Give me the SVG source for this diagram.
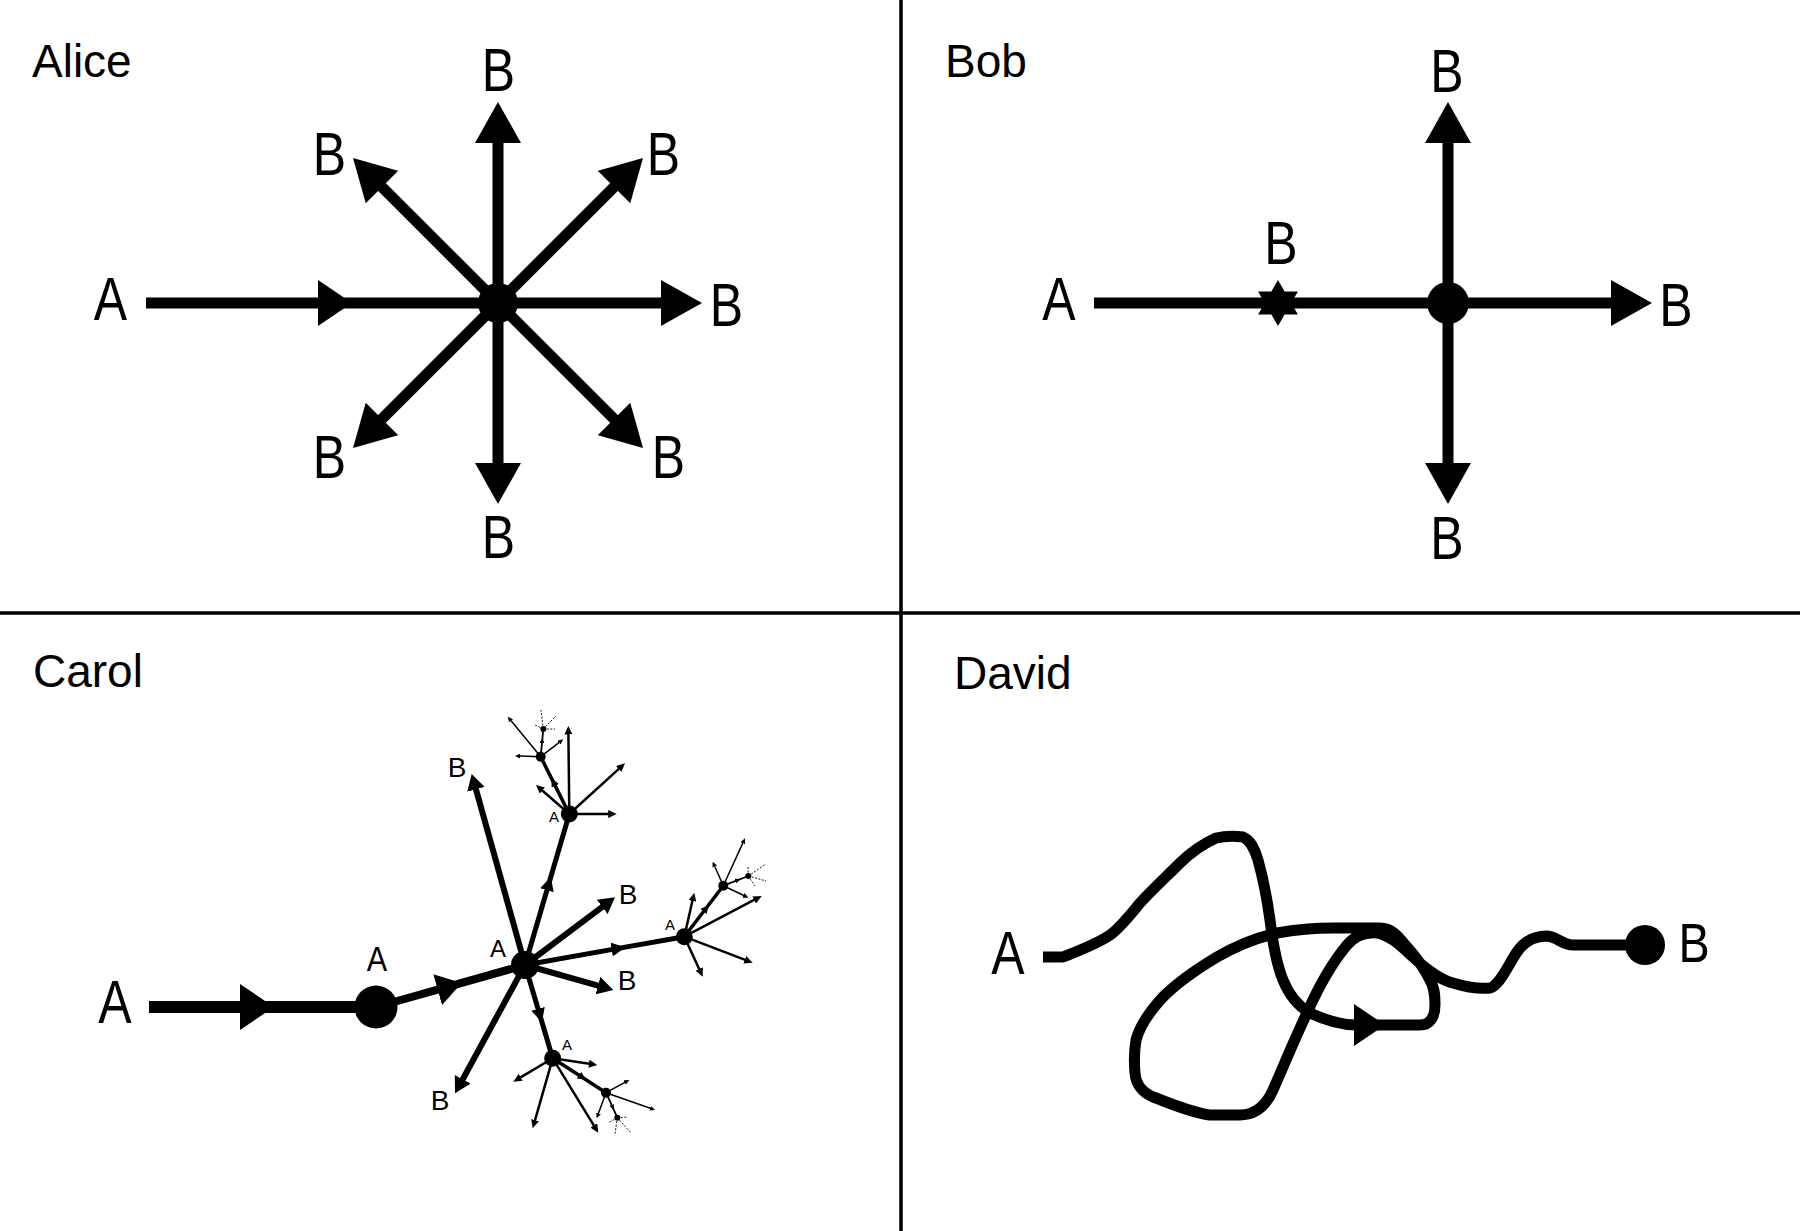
<svg xmlns="http://www.w3.org/2000/svg" width="1800" height="1231" viewBox="0 0 1800 1231">
<style>
.t{font-family:"Liberation Sans",Arial,Helvetica,sans-serif;fill:#000}
.title{font-size:46px}
.big{font-size:61px;text-anchor:middle}
.mid{font-size:36px;text-anchor:middle}
.cb{font-size:28px;text-anchor:middle}
.ca{font-size:24px;text-anchor:middle}
.sa{font-size:15px;text-anchor:middle}
.ln{stroke:#000;fill:none;stroke-linecap:butt;stroke-linejoin:round}
.dot{fill:#000}
.dash{stroke:#000;fill:none;stroke-width:0.9;stroke-dasharray:2 1.5}
</style>
<defs>
<marker id="mA" markerUnits="userSpaceOnUse" viewBox="-1 -23 41 46" markerWidth="41" markerHeight="46" refX="0" refY="0" orient="auto"><path d="M-1,-23 L40,0 L-1,23 z"/></marker>
<marker id="mA2" markerUnits="userSpaceOnUse" viewBox="-1 -23 34 46" markerWidth="34" markerHeight="46" refX="0" refY="0" orient="auto"><path d="M-1,-23 L33,0 L-1,23 z"/></marker>
<marker id="mN" markerUnits="userSpaceOnUse" viewBox="-1 -16 25 32" markerWidth="25" markerHeight="32" refX="0" refY="0" orient="auto"><path d="M-1,-16 L24,0 L-1,16 z"/></marker>
<marker id="mB" markerUnits="userSpaceOnUse" viewBox="-1 -9 16 18" markerWidth="16" markerHeight="18" refX="0" refY="0" orient="auto"><path d="M-1,-9 L15,0 L-1,9 z"/></marker>
<marker id="mS" markerUnits="userSpaceOnUse" viewBox="-1 -7 14 14" markerWidth="14" markerHeight="14" refX="0" refY="0" orient="auto"><path d="M-1,-7 L13,0 L-1,7 z"/></marker>
<marker id="mT" markerUnits="userSpaceOnUse" viewBox="-0.5 -4 8.5 8" markerWidth="8.5" markerHeight="8" refX="0" refY="0" orient="auto"><path d="M-0.5,-4 L8,0 L-0.5,4 z"/></marker>
<marker id="mU" markerUnits="userSpaceOnUse" viewBox="-0.3 -2.5 5.3 5" markerWidth="5.3" markerHeight="5" refX="0" refY="0" orient="auto"><path d="M-0.3,-2.5 L5,0 L-0.3,2.5 z"/></marker>
</defs>
<rect x="0" y="0" width="1800" height="1231" fill="#fff"/>

<g id="frame">
<line x1="901" y1="0" x2="901" y2="1231" stroke="#000" stroke-width="3.5"/>
<line x1="0" y1="613" x2="1800" y2="613" stroke="#000" stroke-width="3.5"/>
</g>

<!-- ALICE -->
<g id="alice">
<text class="t title" x="32" y="77">Alice</text>
<g id="alice-connectors">
<path class="ln" stroke-width="11" d="M146,303 L319,303 L498,303" marker-mid="url(#mA2)"/>
<path class="ln" stroke-width="11" d="M498,303 L498,142" marker-end="url(#mA)"/>
<path class="ln" stroke-width="11" d="M498,303 L662,303" marker-end="url(#mA)"/>
<path class="ln" stroke-width="11" d="M498,303 L498,464" marker-end="url(#mA)"/>
<path class="ln" stroke-width="11" d="M498,303 L381.3,186.3" marker-end="url(#mA)"/>
<path class="ln" stroke-width="11" d="M498,303 L614.7,186.3" marker-end="url(#mA)"/>
<path class="ln" stroke-width="11" d="M498,303 L381.3,419.7" marker-end="url(#mA)"/>
<path class="ln" stroke-width="11" d="M498,303 L614.7,419.7" marker-end="url(#mA)"/>
</g>
<g id="alice-A"><text class="t big" transform="translate(110.5,320) scale(0.82,1)">A</text></g>
<g id="alice-hub"><circle class="dot" cx="498" cy="303" r="20"/></g>
<g id="alice-B-top"><text class="t big" transform="translate(498.5,91) scale(0.82,1)">B</text></g>
<g id="alice-B-ul"><text class="t big" transform="translate(329.5,175) scale(0.82,1)">B</text></g>
<g id="alice-B-ur"><text class="t big" transform="translate(663.5,175) scale(0.82,1)">B</text></g>
<g id="alice-B-right"><text class="t big" transform="translate(726.5,326) scale(0.82,1)">B</text></g>
<g id="alice-B-dl"><text class="t big" transform="translate(329.5,478) scale(0.82,1)">B</text></g>
<g id="alice-B-dr"><text class="t big" transform="translate(668.5,478) scale(0.82,1)">B</text></g>
<g id="alice-B-bottom"><text class="t big" transform="translate(498.5,558) scale(0.82,1)">B</text></g>
</g>

<!-- BOB -->
<g id="bob">
<text class="t title" x="945" y="77">Bob</text>
<g id="bob-connectors">
<path class="ln" stroke-width="11" d="M1094,303 L1448,303"/>
<path class="ln" stroke-width="11" d="M1448,303 L1448,142" marker-end="url(#mA)"/>
<path class="ln" stroke-width="11" d="M1448,303 L1612,303" marker-end="url(#mA)"/>
<path class="ln" stroke-width="11" d="M1448,303 L1448,464" marker-end="url(#mA)"/>
</g>
<g id="bob-A"><text class="t big" transform="translate(1059,320) scale(0.82,1)">A</text></g>
<g id="bob-star"><polygon class="dot" transform="translate(1278,303)" points="0,-23 6.65,-11.5 19.9,-11.5 13.3,0 19.9,11.5 6.65,11.5 0,23 -6.65,11.5 -19.9,11.5 -13.3,0 -19.9,-11.5 -6.65,-11.5"/>
<text class="t big" transform="translate(1281,264) scale(0.82,1)">B</text></g>
<g id="bob-hub"><circle class="dot" cx="1448" cy="303" r="21"/></g>
<g id="bob-B-top"><text class="t big" transform="translate(1447,92) scale(0.82,1)">B</text></g>
<g id="bob-B-right"><text class="t big" transform="translate(1676,326) scale(0.82,1)">B</text></g>
<g id="bob-B-bottom"><text class="t big" transform="translate(1447,559) scale(0.82,1)">B</text></g>
</g>

<!-- CAROL -->
<g id="carol">
<text class="t title" x="33" y="687">Carol</text>
<g id="carol-connectors">
<path class="ln" stroke-width="12" d="M149,1007 L241,1007 L376,1007" marker-mid="url(#mA2)"/>
<path class="ln" stroke-width="8" d="M376,1007 L438.6,989.4 L525,965" marker-mid="url(#mN)"/>
<path class="ln" stroke-width="6" d="M525,965 L475.7,788.4" marker-end="url(#mB)"/>
<path class="ln" stroke-width="6" d="M525,965 L603,906.3" marker-end="url(#mB)"/>
<path class="ln" stroke-width="6" d="M525,965 L598.9,985.9" marker-end="url(#mB)"/>
<path class="ln" stroke-width="6" d="M525,965 L462.2,1080.2" marker-end="url(#mB)"/>
<path class="ln" stroke-width="5" d="M525,965 L547.2,889.2 L569.3,814" marker-mid="url(#mS)"/>
<path class="ln" stroke-width="5" d="M525,965 L612.6,949.4 L684.3,936.7" marker-mid="url(#mS)"/>
<path class="ln" stroke-width="5" d="M525,965 L538.3,1009.8 L552.7,1058.3" marker-mid="url(#mS)"/>
<!-- A1 cluster -->
<path class="ln" stroke-width="2.5" d="M569.3,814 L568.4,734" marker-end="url(#mT)"/>
<path class="ln" stroke-width="2.5" d="M569.3,814 L619.1,768.7" marker-end="url(#mT)"/>
<path class="ln" stroke-width="2.5" d="M569.3,814 L608.7,814" marker-end="url(#mT)"/>
<path class="ln" stroke-width="2.5" d="M569.3,814 L542,790.2" marker-end="url(#mT)"/>
<path class="ln" stroke-width="3.5" d="M569.3,814 L555,785.4 L540.7,756.7" marker-mid="url(#mT)"/>
<path class="ln" stroke-width="1.5" d="M540.7,756.7 L520,756.1" marker-end="url(#mU)"/>
<path class="ln" stroke-width="1.5" d="M540.7,756.7 L510.9,720.6" marker-end="url(#mU)"/>
<path class="ln" stroke-width="1.5" d="M540.7,756.7 L559.3,742.4" marker-end="url(#mU)"/>
<path class="ln" stroke-width="1.8" d="M540.7,756.7 L542,742.9 L543.3,729" marker-mid="url(#mU)"/>
<path class="dash" d="M543.3,729 L541,710 M543.3,729 L556,716 M543.3,729 L555,729 M543.3,729 L535,725"/>
<!-- A2 cluster -->
<path class="ln" stroke-width="2.5" d="M684.3,936.7 L692.5,900.5" marker-end="url(#mT)"/>
<path class="ln" stroke-width="2.5" d="M684.3,936.7 L754.6,899.7" marker-end="url(#mT)"/>
<path class="ln" stroke-width="2.5" d="M684.3,936.7 L745.2,959.9" marker-end="url(#mT)"/>
<path class="ln" stroke-width="2.5" d="M684.3,936.7 L699.4,969.4" marker-end="url(#mT)"/>
<path class="ln" stroke-width="3.5" d="M684.3,936.7 L703.8,911.2 L723.3,885.7" marker-mid="url(#mT)"/>
<path class="ln" stroke-width="1.5" d="M723.3,885.7 L742.9,842.9" marker-end="url(#mU)"/>
<path class="ln" stroke-width="1.5" d="M723.3,885.7 L714.7,866.3" marker-end="url(#mU)"/>
<path class="ln" stroke-width="1.5" d="M723.3,885.7 L743.8,895.5" marker-end="url(#mU)"/>
<path class="ln" stroke-width="1.8" d="M723.3,885.7 L735.8,880.9 L748.3,876" marker-mid="url(#mU)"/>
<path class="dash" d="M748.3,876 L748,866 M748.3,876 L766,864 M748.3,876 L766,881 M748.3,876 L755,886"/>
<!-- A3 cluster -->
<path class="ln" stroke-width="2.5" d="M552.7,1058.3 L589.4,1063.8" marker-end="url(#mT)"/>
<path class="ln" stroke-width="2.5" d="M552.7,1058.3 L520.2,1077.6" marker-end="url(#mT)"/>
<path class="ln" stroke-width="2.5" d="M552.7,1058.3 L534.9,1120.6" marker-end="url(#mT)"/>
<path class="ln" stroke-width="2.5" d="M552.7,1058.3 L594.1,1125.9" marker-end="url(#mT)"/>
<path class="ln" stroke-width="3.5" d="M552.7,1058.3 L579.4,1075.5 L606,1092.7" marker-mid="url(#mT)"/>
<path class="ln" stroke-width="1.5" d="M606,1092.7 L624.9,1082.4" marker-end="url(#mU)"/>
<path class="ln" stroke-width="1.5" d="M606,1092.7 L650.3,1108.3" marker-end="url(#mU)"/>
<path class="ln" stroke-width="1.5" d="M606,1092.7 L598.4,1113.6" marker-end="url(#mU)"/>
<path class="ln" stroke-width="1.8" d="M606,1092.7 L611.7,1105.2 L617.3,1117.7" marker-mid="url(#mU)"/>
<path class="dash" d="M617.3,1117.7 L627,1117 M617.3,1117.7 L631,1133 M617.3,1117.7 L615,1134 M617.3,1117.7 L608,1123"/>
</g>
<g id="carol-A"><text class="t big" transform="translate(115,1023) scale(0.82,1)">A</text></g>
<g id="carol-n1"><circle class="dot" cx="376" cy="1007" r="21.5"/><text class="t mid" transform="translate(377,971) scale(0.85,1)">A</text></g>
<g id="carol-hub"><circle class="dot" cx="525" cy="965" r="14"/><text class="t ca" x="498" y="957">A</text></g>
<g id="carol-B1"><text class="t cb" x="457" y="777">B</text></g>
<g id="carol-B2"><text class="t cb" x="628" y="904">B</text></g>
<g id="carol-B3"><text class="t cb" x="627" y="990">B</text></g>
<g id="carol-B4"><text class="t cb" x="440" y="1110">B</text></g>
<g id="carol-a1"><circle class="dot" cx="569.3" cy="814" r="8.5"/><text class="t sa" x="554" y="822">A</text></g>
<g id="carol-a2"><circle class="dot" cx="684.3" cy="936.7" r="8.5"/><text class="t sa" x="670" y="930">A</text></g>
<g id="carol-a3"><circle class="dot" cx="552.7" cy="1058.3" r="8.5"/><text class="t sa" x="567" y="1050">A</text></g>
<g id="carol-s1"><circle class="dot" cx="540.7" cy="756.7" r="5"/></g>
<g id="carol-s2"><circle class="dot" cx="723.3" cy="885.7" r="5"/></g>
<g id="carol-s3"><circle class="dot" cx="606" cy="1092.7" r="5"/></g>
<g id="carol-ss1"><circle class="dot" cx="543.3" cy="729" r="3"/></g>
<g id="carol-ss2"><circle class="dot" cx="748.3" cy="876" r="3"/></g>
<g id="carol-ss3"><circle class="dot" cx="617.3" cy="1117.7" r="3"/></g>
</g>

<!-- DAVID -->
<g id="david">
<text class="t title" x="954" y="689">David</text>
<g id="david-connectors">
<path class="ln" stroke-width="11" d="M1043,957 L1063,957 C1078,951 1097,944 1110,935 C1120,928 1130,915 1140,903 C1153,889 1167,876 1180,863 C1192,851 1203,844 1216,838 C1225,836 1235,836 1243,837 C1250,840 1254,847 1258,860 C1263,878 1267,898 1270,920 C1273,945 1276,963 1283,980 C1289,995 1298,1006 1310,1013 C1325,1020 1340,1025 1357,1025 L1420,1025 C1430,1025 1435,1017 1435,1005 C1435,993 1434,987 1430,980 C1424,968 1416,957 1407,947 C1398,936 1392,928 1380,928 L1333,928 C1312,928 1294,930 1277,933 C1255,938 1236,946 1217,957 C1197,969 1178,982 1163,997 C1150,1011 1140,1025 1136,1040 C1134,1052 1134,1062 1135,1073 C1136,1085 1142,1092 1153,1097 C1172,1104 1192,1113 1210,1115 L1240,1115 C1254,1115 1265,1108 1273,1090 C1284,1065 1295,1038 1307,1013 C1318,988 1332,963 1347,945 C1355,936 1365,932 1377,933 C1390,935 1401,946 1413,957 C1425,968 1438,979 1453,983 C1466,987 1480,989 1490,988 C1500,985 1508,965 1517,952 C1525,940 1535,936 1547,936 C1558,937 1562,945 1573,945 L1626,945"/>
<polygon class="dot" points="1354,1004 1385,1025 1354,1046"/>
</g>
<g id="david-A"><text class="t big" transform="translate(1008,974) scale(0.82,1)">A</text></g>
<g id="david-B"><circle class="dot" cx="1645" cy="945" r="20"/><text class="t big" style="font-size:55px" transform="translate(1694,962) scale(0.85,1)">B</text></g>
</g>
</svg>
